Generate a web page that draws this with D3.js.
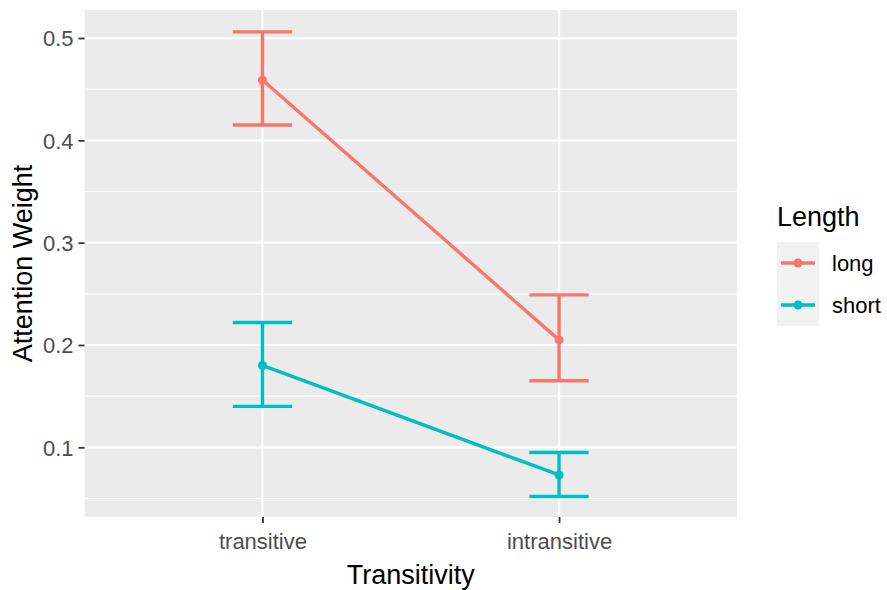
<!DOCTYPE html>
<html>
<head>
<meta charset="utf-8">
<script src="https://cdn.jsdelivr.net/npm/d3@7"></script>
<style>
  body { margin: 0; background: #fff; }
  text { font-family: "Liberation Sans", Arial, sans-serif; }
</style>
</head>
<body>
<div id="chart"></div>
<script>
// Attention weight by transitivity and length (mean +/- error)
const categories = ["transitive", "intransitive"];
const groups = ["long", "short"];
const colors = ["#F8766D", "#00BFC4"];

const longMean = [0.459, 0.205];
const longLow = [0.415, 0.165];
const longHigh = [0.506, 0.249];

const shortMean = [0.180, 0.073];
const shortLow = [0.140, 0.052];
const shortHigh = [0.222, 0.095];

const yTicks = [0.1, 0.2, 0.3, 0.4, 0.5];
const yMinor = [0.05, 0.15, 0.25, 0.35, 0.45];

const series = [
  { name: groups[0], color: colors[0], mean: longMean, lo: longLow, hi: longHigh },
  { name: groups[1], color: colors[1], mean: shortMean, lo: shortLow, hi: shortHigh }
];

const width = 887, height = 590;
const margin = { top: 10, right: 150, bottom: 73, left: 84.5 };
const pw = width - margin.left - margin.right;
const ph = height - margin.top - margin.bottom;

const svg = d3.select("#chart").append("svg")
  .attr("width", width)
  .attr("height", height);

const g = svg.append("g")
  .attr("transform", `translate(${margin.left},${margin.top})`);

// discrete x with ggplot's 0.6 expansion
const x = d3.scalePoint()
  .domain(categories)
  .range([0, pw])
  .padding(0.6);
const step = x.step();

const y = d3.scaleLinear()
  .domain([0.0319, 0.5274])
  .range([ph, 0]);

// panel
g.append("rect")
  .attr("width", pw)
  .attr("height", ph)
  .attr("fill", "#EBEBEB");

g.selectAll(".minor")
  .data(yMinor)
  .join("line")
  .attr("x1", 0).attr("x2", pw)
  .attr("y1", d => y(d)).attr("y2", d => y(d))
  .attr("stroke", "#fff")
  .attr("stroke-width", 1.2);

g.selectAll(".major")
  .data(yTicks)
  .join("line")
  .attr("x1", 0).attr("x2", pw)
  .attr("y1", d => y(d)).attr("y2", d => y(d))
  .attr("stroke", "#fff")
  .attr("stroke-width", 2.2);

g.selectAll(".xgrid")
  .data(categories)
  .join("line")
  .attr("x1", d => x(d)).attr("x2", d => x(d))
  .attr("y1", 0).attr("y2", ph)
  .attr("stroke", "#fff")
  .attr("stroke-width", 2.2);

// axes
const yAxis = g.append("g")
  .call(d3.axisLeft(y).tickValues(yTicks).tickFormat(d3.format(".1f")).tickSize(6).tickPadding(5));
const xAxis = g.append("g")
  .attr("transform", `translate(0,${ph})`)
  .call(d3.axisBottom(x).tickSize(6).tickPadding(5));

[xAxis, yAxis].forEach(a => {
  a.select(".domain").remove();
  a.selectAll(".tick line").attr("stroke", "#333333").attr("stroke-width", 1.8);
  a.selectAll(".tick text")
    .attr("fill", "#4D4D4D")
    .style("font-size", "22px")
    .style("font-family", "'Liberation Sans', Arial, sans-serif");
});
yAxis.selectAll(".tick text").attr("dy", "0.36em");
xAxis.selectAll(".tick text").attr("dy", "0.95em");

// data
const line = d3.line()
  .x((d, i) => x(categories[i]))
  .y(d => y(d));

const halfCap = step * 0.1;

series.forEach(s => {
  const sg = g.append("g");
  sg.append("path")
    .datum(s.mean)
    .attr("d", line)
    .attr("fill", "none")
    .attr("stroke", s.color)
    .attr("stroke-width", 3.4);

  const eb = sg.selectAll(".eb")
    .data(categories.map((c, i) => ({ c, lo: s.lo[i], hi: s.hi[i] })))
    .join("g")
    .attr("stroke", s.color)
    .attr("stroke-width", 3.4)
    .attr("fill", "none");
  eb.append("line")
    .attr("x1", d => x(d.c)).attr("x2", d => x(d.c))
    .attr("y1", d => y(d.lo)).attr("y2", d => y(d.hi));
  eb.append("line")
    .attr("x1", d => x(d.c) - halfCap).attr("x2", d => x(d.c) + halfCap)
    .attr("y1", d => y(d.lo)).attr("y2", d => y(d.lo));
  eb.append("line")
    .attr("x1", d => x(d.c) - halfCap).attr("x2", d => x(d.c) + halfCap)
    .attr("y1", d => y(d.hi)).attr("y2", d => y(d.hi));

  sg.selectAll("circle")
    .data(s.mean)
    .join("circle")
    .attr("cx", (d, i) => x(categories[i]))
    .attr("cy", d => y(d))
    .attr("r", 4.5)
    .attr("fill", s.color);
});

// axis titles
svg.append("text")
  .attr("x", margin.left + pw / 2)
  .attr("y", 584)
  .attr("text-anchor", "middle")
  .style("font-size", "27px")
  .attr("fill", "#000")
  .text("Transitivity");

svg.append("text")
  .attr("transform", `translate(32,${margin.top + ph / 2}) rotate(-90)`)
  .attr("text-anchor", "middle")
  .style("font-size", "27px")
  .attr("fill", "#000")
  .text("Attention Weight");

// legend
const legend = svg.append("g").attr("transform", "translate(777,226)");
legend.append("text")
  .attr("x", 0).attr("y", 0)
  .style("font-size", "27px")
  .attr("fill", "#000")
  .text("Length");

const keyH = 42;
const keys = legend.selectAll(".key")
  .data(series)
  .join("g")
  .attr("transform", (d, i) => `translate(0,${16 + i * keyH})`);
keys.append("rect")
  .attr("width", 42).attr("height", keyH)
  .attr("fill", "#F2F2F2");
keys.append("line")
  .attr("x1", 4).attr("x2", 38)
  .attr("y1", keyH / 2).attr("y2", keyH / 2)
  .attr("stroke", d => d.color)
  .attr("stroke-width", 3.4);
keys.append("circle")
  .attr("cx", 21).attr("cy", keyH / 2)
  .attr("r", 4.5)
  .attr("fill", d => d.color);
keys.append("text")
  .attr("x", 55).attr("y", keyH / 2)
  .attr("dy", "0.35em")
  .style("font-size", "22px")
  .attr("fill", "#000")
  .text(d => d.name);
</script>
</body>
</html>
